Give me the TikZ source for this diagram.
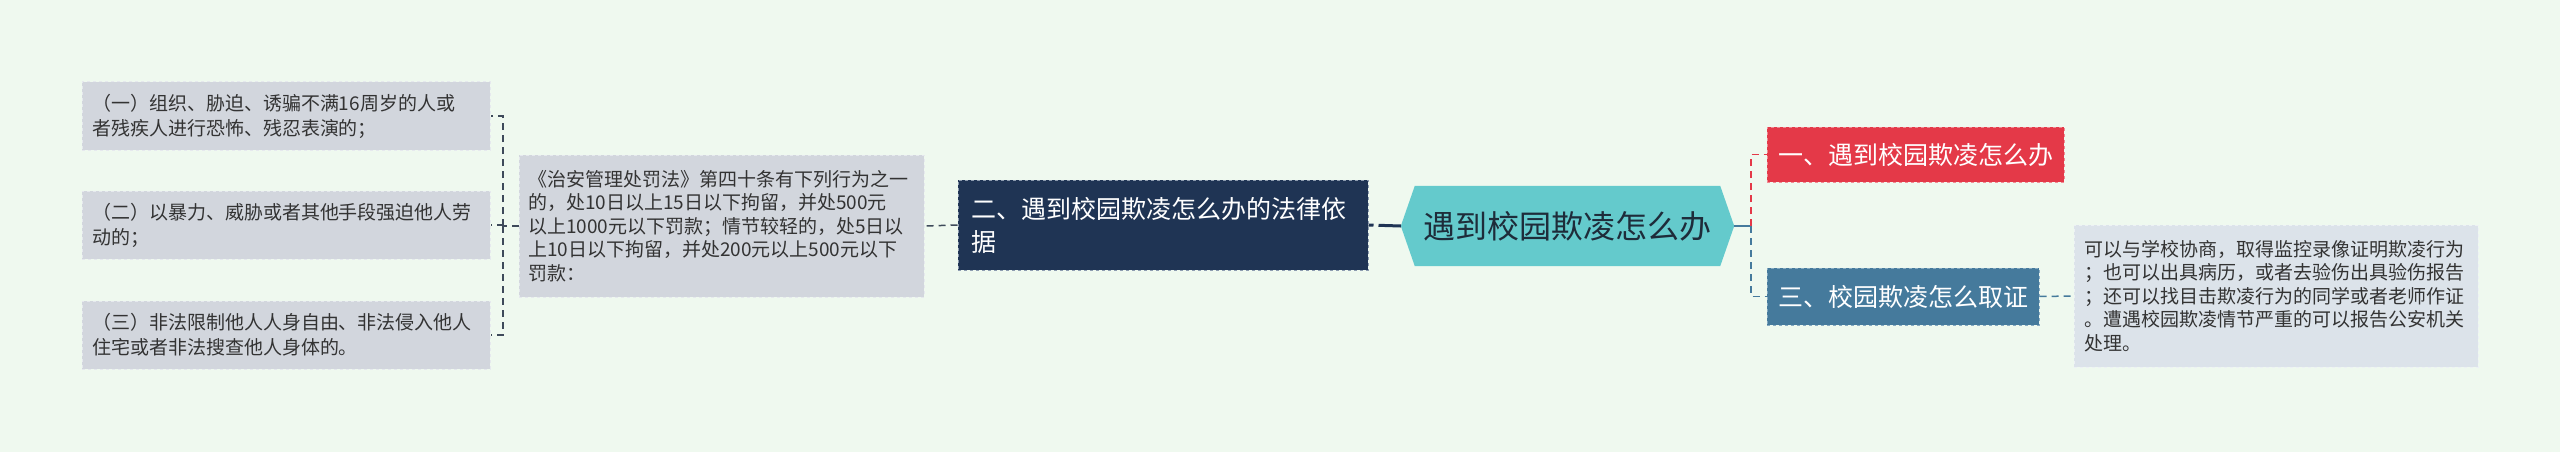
\documentclass[tikz,border=0pt]{standalone}
\usepackage{fontspec}
\setmainfont{Noto Sans CJK SC}
\usetikzlibrary{backgrounds}
\definecolor{bgc}{HTML}{EFF9EF}
\definecolor{leaffill}{HTML}{D2D6DD}
\definecolor{leafborder}{HTML}{E6E9EE}
\definecolor{leaftext}{HTML}{333333}
\definecolor{rightfill}{HTML}{DCE3EA}
\definecolor{rightborder}{HTML}{EDF1F5}
\definecolor{darkfill}{HTML}{1F3454}
\definecolor{darkborder}{HTML}{8D9CB0}
\definecolor{hexfill}{HTML}{64CACC}
\definecolor{hextext}{HTML}{1E2C3A}
\definecolor{redfill}{HTML}{E43948}
\definecolor{redborder}{HTML}{F08A93}
\definecolor{bluefill}{HTML}{457A9C}
\definecolor{blueborder}{HTML}{86AAC2}
\definecolor{connc}{HTML}{3E4A5A}
\definecolor{redc}{HTML}{E43948}
\definecolor{bluec}{HTML}{457A9C}
\begin{document}
\begin{tikzpicture}[x=1pt,y=-1pt,
  boxbase/.style={dashed, line width=1pt, inner ysep=0pt, align=left},
  leafbox/.style={boxbase, fill=leaffill, draw=leafborder, text=leaftext,
    font=\fontsize{19}{25}\selectfont, text width=388pt, inner xsep=10pt, minimum height=68pt},
  midbox/.style={boxbase, fill=leaffill, draw=leafborder, text=leaftext,
    font=\fontsize{19}{23.5}\selectfont, text width=387pt, inner xsep=9pt, minimum height=142pt},
  rightbox/.style={boxbase, fill=rightfill, draw=rightborder, text=leaftext,
    font=\fontsize{19}{23.5}\selectfont, text width=384pt, inner xsep=10pt, minimum height=142pt},
  darkbox/.style={boxbase, fill=darkfill, draw=darkborder, text=white,
    font=\fontsize{25}{33}\selectfont, text width=384pt, inner xsep=13pt, minimum height=90pt},
  redbox/.style={boxbase, fill=redfill, draw=redborder, text=white, align=center,
    font=\fontsize{25}{30}\selectfont, minimum width=297pt, minimum height=55pt, inner xsep=0pt},
  bluebox/.style={boxbase, fill=bluefill, draw=blueborder, text=white, align=center,
    font=\fontsize{25}{30}\selectfont, minimum width=272pt, minimum height=57pt, inner xsep=0pt},
  hexnode/.style={text=hextext, font=\fontsize{32}{36}\selectfont, minimum width=333pt, minimum height=80pt, inner sep=0pt},
  conn/.style={draw=connc, line width=1.5pt, dash pattern=on 7pt off 5pt},
  redconn/.style={draw=redc, line width=1.5pt, dash pattern=on 7pt off 5pt},
  blueconn/.style={draw=bluec, line width=1.5pt, dash pattern=on 7pt off 5pt},
]
\begin{scope}[on background layer]
\fill[bgc] (0,0) rectangle (2560,452);
\end{scope}
\useasboundingbox (0,0) rectangle (2560,452);

% left leaves
\node[leafbox] (l1) at (286,116) {（一）组织、胁迫、诱骗不满16周岁的人或\\者残疾人进行恐怖、残忍表演的；};
\node[leafbox] (l2) at (286,225) {（二）以暴力、威胁或者其他手段强迫他人劳\\动的；};
\node[leafbox] (l3) at (286,335) {（三）非法限制他人人身自由、非法侵入他人\\住宅或者非法搜查他人身体的。};

% middle text
\node[midbox] (m) at (721.5,226) {《治安管理处罚法》第四十条有下列行为之一\\的，处10日以上15日以下拘留，并处500元\\以上1000元以下罚款；情节较轻的，处5日以\\上10日以下拘留，并处200元以上500元以下\\罚款：};

% dark branch
\node[darkbox] (d) at (1163,225) {二、遇到校园欺凌怎么办的法律依\\据};

% central hexagon
\node[hexnode] (hex) at (1567.5,226) {遇到校园欺凌怎么办};
\begin{scope}[on background layer]
\fill[hexfill] (hex.west) -- ([xshift=14pt]hex.north west) -- ([xshift=-14pt]hex.north east) -- (hex.east) -- ([xshift=-14pt]hex.south east) -- ([xshift=14pt]hex.south west) -- cycle;
\end{scope}

% right branches
\node[redbox] (r1) at (1915.5,154.5) {一、遇到校园欺凌怎么办};
\node[bluebox] (r3) at (1903,296.5) {三、校园欺凌怎么取证};
\node[rightbox] (rt) at (2276,296) {可以与学校协商，取得监控录像证明欺凌行为\\；也可以出具病历，或者去验伤出具验伤报告\\；还可以找目击欺凌行为的同学或者老师作证\\。遭遇校园欺凌情节严重的可以报告公安机关\\处理。};

% connectors
\coordinate (bl) at (503,226);
\coordinate (br) at (1751,226);
\draw[conn] (m.west) -- (bl);
\draw[conn] (bl) |- (l1.east);
\draw[conn] (bl) |- (l2.east);
\draw[conn] (bl) |- (l3.east);
\draw[conn] (d.west) -- (m.east);
\draw[draw=darkfill, line width=3pt, dash pattern=on 5pt off 5pt on 60pt] (d.east) -- (hex.west);
\draw[draw=bluec, line width=2pt] (hex.east) -- (br);
\draw[redconn] (br) |- (r1.west);
\draw[blueconn] (br) |- (r3.west);
\draw[blueconn] (r3.east) -- (rt.west);
\end{tikzpicture}
\end{document}
